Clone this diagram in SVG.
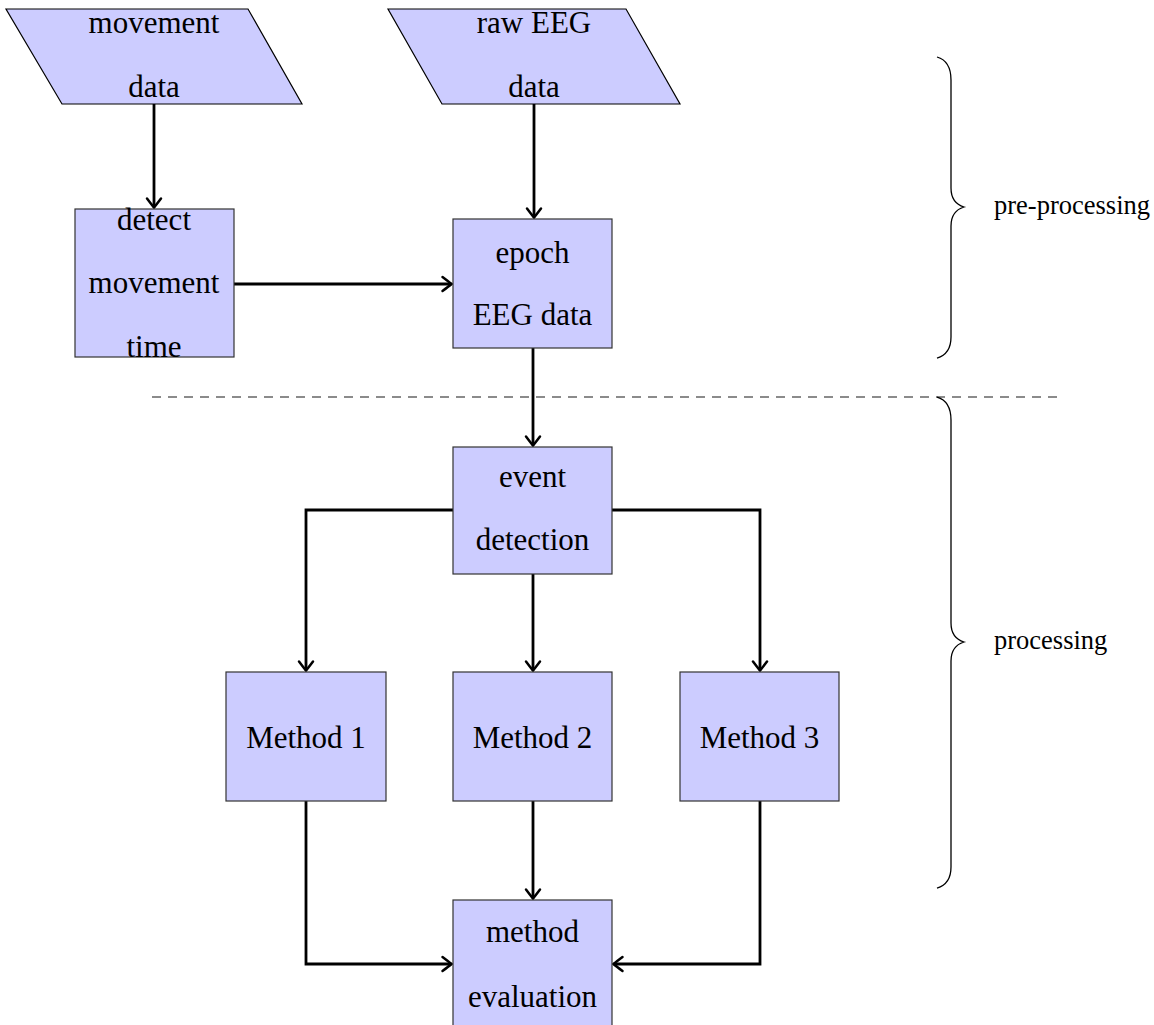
<svg xmlns="http://www.w3.org/2000/svg" width="1154" height="1025" viewBox="0 0 1154 1025">
<style>
.box{fill:#ccccff;stroke:#333;stroke-width:1.2}
.t{font-family:"Liberation Serif","Times New Roman",serif;font-size:31px;fill:#000;text-anchor:middle}
.lbl{font-family:"Liberation Serif","Times New Roman",serif;font-size:26.5px;fill:#000}
.c{fill:none;stroke:#000;stroke-width:2.8}
.brace{fill:none;stroke:#000;stroke-width:1.3}
</style>
<defs>
<marker id="arr" markerUnits="userSpaceOnUse" viewBox="-12 -10 14 20" refX="0" refY="0" markerWidth="14" markerHeight="20" orient="auto" overflow="visible">
<path d="M-9,-7 Q-3,-2.5 0,0 Q-3,2.5 -9,7" fill="none" stroke="#000" stroke-width="2.5" stroke-linecap="round"/>
</marker>
</defs>
<rect width="1154" height="1025" fill="#fff"/>
<g id="connectors">
<path class="c" d="M154,104 V207.5" marker-end="url(#arr)"/>
<path class="c" d="M534,104 V217.5" marker-end="url(#arr)"/>
<path class="c" d="M234,284 H451.5" marker-end="url(#arr)"/>
<path class="c" d="M533,348 V445.5" marker-end="url(#arr)"/>
<path class="c" d="M453,510 H306 V670.5" marker-end="url(#arr)"/>
<path class="c" d="M533,574 V670.5" marker-end="url(#arr)"/>
<path class="c" d="M612,510 H760 V670.5" marker-end="url(#arr)"/>
<path class="c" d="M306,801 V964 H451.5" marker-end="url(#arr)"/>
<path class="c" d="M533,801 V898.5" marker-end="url(#arr)"/>
<path class="c" d="M760,801 V964 H613.5" marker-end="url(#arr)"/>
</g>
<g id="movement-data">
<polygon class="box" points="6,9 248,9 302,104 62,104" style="stroke:#000"/>
<text class="t" x="154" y="33">movement</text>
<text class="t" x="154" y="97">data</text>
</g>
<g id="raw-eeg-data">
<polygon class="box" points="388,9 626,9 680,104 442,104" style="stroke:#000"/>
<text class="t" x="534" y="33">raw EEG</text>
<text class="t" x="534" y="97">data</text>
</g>
<g id="detect-movement-time">
<rect class="box" x="75" y="209" width="159" height="148"/>
<text class="t" x="154" y="230">detect</text>
<text class="t" x="154" y="293">movement</text>
<text class="t" x="154" y="357">time</text>
</g>
<g id="epoch-eeg-data">
<rect class="box" x="453" y="219" width="159" height="129"/>
<text class="t" x="532.5" y="263">epoch</text>
<text class="t" x="532.5" y="325">EEG data</text>
</g>
<g id="event-detection">
<rect class="box" x="453" y="447" width="159" height="127"/>
<text class="t" x="532.5" y="487">event</text>
<text class="t" x="532.5" y="550">detection</text>
</g>
<g id="method-1">
<rect class="box" x="226" y="672" width="160" height="129"/>
<text class="t" x="306" y="748">Method 1</text>
</g>
<g id="method-2">
<rect class="box" x="453" y="672" width="159" height="129"/>
<text class="t" x="532.5" y="748">Method 2</text>
</g>
<g id="method-3">
<rect class="box" x="680" y="672" width="159" height="129"/>
<text class="t" x="759.5" y="748">Method 3</text>
</g>
<g id="method-evaluation">
<rect class="box" x="453" y="900" width="159" height="140"/>
<text class="t" x="532.5" y="942">method</text>
<text class="t" x="532.5" y="1007">evaluation</text>
</g>
<g id="separator">
<line x1="152" y1="397" x2="1058" y2="397" stroke="#666" stroke-width="1.3" stroke-dasharray="9,7"/>
</g>
<g id="pre-processing-brace">
<path class="brace" d="M937,57 Q951,61 951,80 L951,188 Q951,203 964,207 Q951,211 951,226 L951,337 Q951,354 937,358"/>
<text class="lbl" x="994" y="214">pre-processing</text>
</g>
<g id="processing-brace">
<path class="brace" d="M937,397 Q951,401 951,420 L951,623 Q951,638 964,642 Q951,646 951,661 L951,867 Q951,884 937,888"/>
<text class="lbl" x="994" y="649">processing</text>
</g>
</svg>
